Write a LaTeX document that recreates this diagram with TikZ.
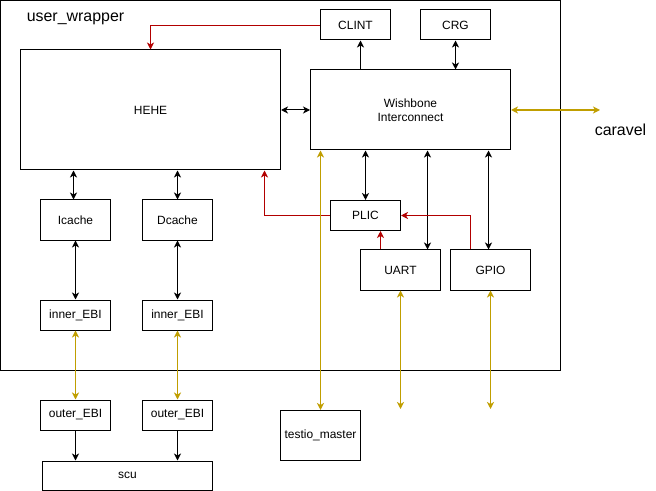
\documentclass[tikz,border=0pt]{standalone}
\usepackage{fontspec}
\setmainfont{Liberation Sans}
\usetikzlibrary{arrows.meta,calc}
\definecolor{gold}{RGB}{192,158,0}
\definecolor{dred}{RGB}{178,0,0}
\begin{document}
\begin{tikzpicture}[x=1bp,y=-1bp,
  box/.style={draw,line width=1bp,rectangle,inner sep=0pt,font=\fontsize{12}{14}\selectfont,align=center},
  conn/.style={line width=1bp,-{Stealth[length=7bp,width=7bp,inset=2bp]}},
  bconn/.style={line width=1bp,{Stealth[length=7bp,width=7bp,inset=2bp]}-{Stealth[length=7bp,width=7bp,inset=2bp]}},
  redc/.style={conn,draw=dred,line width=0.9bp},
  goldc/.style={bconn,draw=gold,line width=1.2bp}]
\useasboundingbox (0,0) rectangle (656,491);
\node[box,minimum width=559bp,minimum height=369bp] (wrap) at (280.5,185.5) {};
\node[font=\fontsize{16}{18}\selectfont] (wl) at (75.5,19) {user\_wrapper};
\node[box,minimum width=260bp,minimum height=120bp] (hehe) at (150.5,110) {HEHE};
\node[box,minimum width=70bp,minimum height=30bp] (clint) at (355.5,25) {CLINT};
\node[box,minimum width=70bp,minimum height=30bp] (crg) at (455.5,25) {CRG};
\node[box,minimum width=200bp,minimum height=80bp] (wb) at (410.5,110) {Wishbone\\Interconnect};
\node[box,minimum width=70bp,minimum height=30bp] (plic) at (365.5,215.5) {PLIC};
\node[box,minimum width=80bp,minimum height=40bp] (uart) at (400.5,270) {UART};
\node[box,minimum width=80bp,minimum height=40bp] (gpio) at (490.5,270) {GPIO};
\node[box,minimum width=70bp,minimum height=40bp] (icache) at (75.5,220) {Icache};
\node[box,minimum width=70bp,minimum height=40bp] (dcache) at (177.5,220) {Dcache};
\node[box,minimum width=70bp,minimum height=30bp] (iebi1) at (75.5,315) {inner\_EBI};
\node[box,minimum width=70bp,minimum height=30bp] (iebi2) at (177.5,315) {inner\_EBI};
\node[box,minimum width=70bp,minimum height=30bp] (oebi1) at (75.5,415) {outer\_EBI};
\node[box,minimum width=70bp,minimum height=30bp] (oebi2) at (177.5,415) {outer\_EBI};
\node[box,minimum width=170bp,minimum height=29bp] (scu) at (127.5,475.5) {scu};
\node[box,minimum width=80bp,minimum height=50bp] (testio) at (320.5,435.5) {testio\_master};
\node[font=\fontsize{16}{18}\selectfont] (car) at (620.5,130) {caravel};
\coordinate (carend) at (600,110);
\coordinate (uend) at (400.5,409);
\coordinate (gend) at (490.5,409);
% black connectors
\draw[bconn] (hehe.east) -- (wb.west);
\draw[conn] (wb.north -| 360.5,0) -- (clint.south -| 360.5,0);
\draw[bconn] (wb.north -| crg.south) -- (crg.south);
\draw[bconn] (wb.south -| plic.north) -- (plic.north);
\draw[bconn] (wb.south -| 427.5,0) -- (uart.north -| 427.5,0);
\draw[bconn] (wb.south -| 488.5,0) -- (gpio.north -| 488.5,0);
\draw[bconn] (hehe.south -| 73.5,0) -- (icache.north -| 73.5,0);
\draw[bconn] (hehe.south -| dcache.north) -- (dcache.north);
\draw[bconn] (icache.south) -- (iebi1.north);
\draw[bconn] (dcache.south) -- (iebi2.north);
\draw[conn] (oebi1.south) -- (scu.north -| oebi1.south);
\draw[conn] (oebi2.south) -- (scu.north -| oebi2.south);
% red connectors
\draw[redc] (clint.west) -| (hehe.north);
\draw[redc] (plic.west) -| (hehe.south -| 264.5,0);
\draw[redc] (uart.north -| 380.5,0) -- (plic.south -| 380.5,0);
\draw[redc] (gpio.north -| 470.5,0) |- (plic.east);
% gold connectors
\draw[goldc] (wb.east) -- (carend);
\draw[goldc] (wb.south -| testio.north) -- (testio.north);
\draw[goldc] (uart.south) -- (uend);
\draw[goldc] (gpio.south) -- (gend);
\draw[goldc] (iebi1.south) -- (oebi1.north);
\draw[goldc] (iebi2.south) -- (oebi2.north);
\end{tikzpicture}
\end{document}
